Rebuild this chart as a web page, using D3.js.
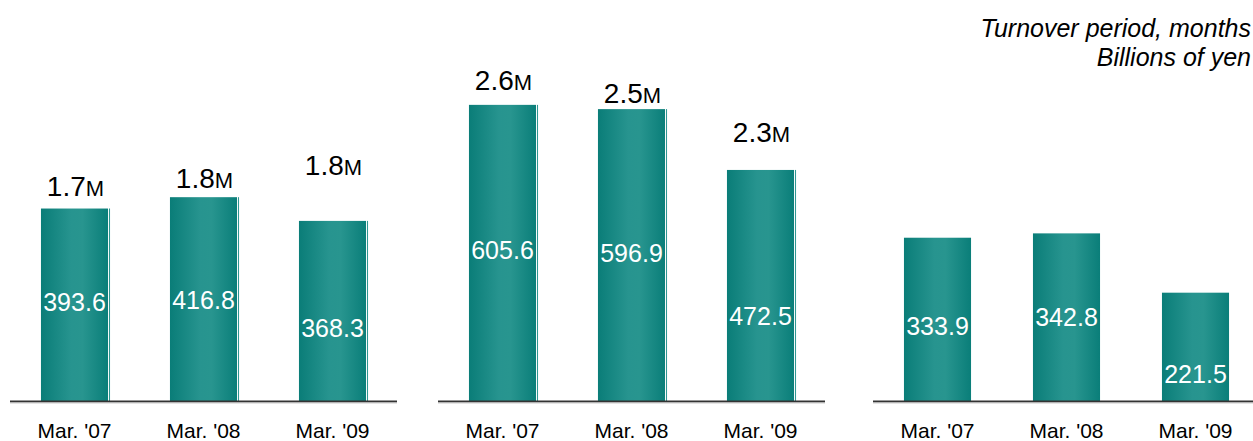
<!DOCTYPE html>
<html>
<head>
<meta charset="utf-8">
<script src="https://cdn.jsdelivr.net/npm/d3@7"></script>
<style>
  html, body { margin: 0; padding: 0; background: #fff; }
  svg { display: block; font-family: "Liberation Sans", Arial, sans-serif; }
</style>
</head>
<body>
<svg id="chart" width="1253" height="441"></svg>
<script>
// ---- data ----
const categories = ["Mar. '07", "Mar. '08", "Mar. '09"];
const panel1Values = [393.6, 416.8, 368.3];
const panel2Values = [605.6, 596.9, 472.5];
const panel3Values = [333.9, 342.8, 221.5];
const panel1Turnover = [1.7, 1.8, 1.8];
const panel2Turnover = [2.6, 2.5, 2.3];
const panel3Turnover = [];
const unitLines = ["Turnover period, months", "Billions of yen"];

// ---- layout (not data) ----
const W = 1253, H = 441;
const baseY = 401;
const panels = [
  { values: panel1Values, turnover: panel1Turnover, x0: 10, x1: 397, lineEnd: 397,
    labelFrac: [0.514, 0.496, 0.405], turnGap: [12.5, 9.2, 45.9] },
  { values: panel2Values, turnover: panel2Turnover, x0: 438, x1: 825, lineEnd: 825,
    labelFrac: [0.51, 0.507, 0.368], turnGap: [14.9, 6.1, 27.9] },
  { values: panel3Values, turnover: panel3Turnover, x0: 873, x1: 1260, lineEnd: 1253,
    labelFrac: [0.459, 0.504, 0.249], turnGap: [] }
];

const svg = d3.select("#chart");
const defs = svg.append("defs");
const grad = defs.append("linearGradient").attr("id", "barGrad")
  .attr("x1", "0%").attr("x2", "100%").attr("y1", "0%").attr("y2", "0%");
grad.append("stop").attr("offset", "0%").attr("stop-color", "#0a7d78");
grad.append("stop").attr("offset", "45%").attr("stop-color", "#27948f");
grad.append("stop").attr("offset", "62%").attr("stop-color", "#28958f");
grad.append("stop").attr("offset", "100%").attr("stop-color", "#0a7e79");

const y = d3.scaleLinear().domain([0, 600]).range([baseY, baseY - 293.4]);

panels.forEach((p, pi) => {
  const x = d3.scaleBand().domain(categories).range([p.x0, p.x1])
    .paddingInner(0.48).paddingOuter(0.24);
  const g = svg.append("g");
  const data = categories.map((c, i) => ({ c, v: p.values[i], t: p.turnover[i], i }));

  // bars
  g.selectAll("rect.bar").data(data).enter().append("rect")
    .attr("class", "bar")
    .attr("x", d => x(d.c))
    .attr("y", d => y(d.v))
    .attr("width", x.bandwidth())
    .attr("height", d => baseY - y(d.v))
    .attr("fill", "url(#barGrad)");

  // thin highlight line to right of bar (panels 1-2)
  if (pi < 2) {
    g.selectAll("line.edge").data(data).enter().append("line")
      .attr("x1", d => x(d.c) + x.bandwidth() + 1.5)
      .attr("x2", d => x(d.c) + x.bandwidth() + 1.5)
      .attr("y1", d => y(d.v))
      .attr("y2", baseY)
      .attr("stroke", "#2a948f").attr("stroke-width", 1);
  }

  // baseline
  g.append("line")
    .attr("x1", p.x0).attr("x2", p.lineEnd)
    .attr("y1", baseY + 0.5).attr("y2", baseY + 0.5)
    .attr("stroke", "#333").attr("stroke-width", 2);
  g.append("line")
    .attr("x1", p.x0).attr("x2", p.lineEnd)
    .attr("y1", baseY + 2).attr("y2", baseY + 2)
    .attr("stroke", "#ccc").attr("stroke-width", 1);

  // value labels inside bars
  g.selectAll("text.val").data(data).enter().append("text")
    .attr("x", d => x(d.c) + x.bandwidth() / 2)
    .attr("y", d => baseY - (baseY - y(d.v)) * p.labelFrac[d.i] + 9)
    .attr("text-anchor", "middle")
    .attr("fill", "#fff")
    .attr("font-size", 25)
    .text(d => d.v.toFixed(1));

  // turnover labels above bars
  g.selectAll("text.turn").data(data.filter(d => d.t !== undefined)).enter().append("text")
    .attr("x", d => x(d.c) + x.bandwidth() / 2 + 1)
    .attr("y", d => y(d.v) - p.turnGap[d.i])
    .attr("text-anchor", "middle")
    .attr("fill", "#000")
    .each(function(d) {
      const t = d3.select(this);
      t.append("tspan").attr("font-size", 28).text(d.t.toFixed(1));
      t.append("tspan").attr("font-size", 22).text("M");
    });

  // category axis labels
  const axis = d3.axisBottom(x).tickSize(0).tickPadding(0);
  const ag = g.append("g").attr("transform", `translate(0,${baseY})`).call(axis);
  ag.select(".domain").remove();
  ag.selectAll("text")
    .attr("y", 37).attr("dy", null)
    .attr("font-size", 21)
    .attr("font-family", "Liberation Sans, Arial, sans-serif")
    .attr("fill", "#000");
});

// units note
svg.selectAll("text.unit").data(unitLines).enter().append("text")
  .attr("class", "unit")
  .attr("x", 1251)
  .attr("y", (d, i) => 37 + i * 29)
  .attr("text-anchor", "end")
  .attr("font-style", "italic")
  .attr("font-size", 25)
  .attr("fill", "#000")
  .text(d => d);
</script>
</body>
</html>
